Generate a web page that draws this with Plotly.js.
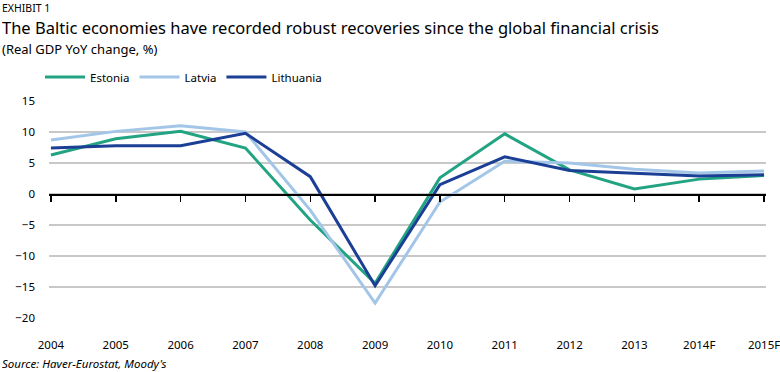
<!DOCTYPE html>
<html>
<head>
<meta charset="utf-8">
<script src="https://cdn.plot.ly/plotly-3.0.1.min.js"></script>
<style>html,body{margin:0;padding:0;background:#fff;}#chart{width:780px;height:372px;}</style>
</head>
<body>
<div id="chart"></div>
<script>
const years = ["2004","2005","2006","2007","2008","2009","2010","2011","2012","2013","2014F","2015F"];
const estonia   = [6.3, 8.9, 10.1, 7.4, -4.2, -14.4, 2.6, 9.7, 3.9, 0.8, 2.4, 3.0];
const latvia    = [8.7, 10.1, 11.0, 10.0, -2.6, -17.6, -1.3, 5.3, 5.0, 4.0, 3.4, 3.7];
const lithuania = [7.4, 7.8, 7.8, 9.8, 2.8, -14.8, 1.5, 6.0, 3.8, 3.3, 2.9, 3.1];
const seriesNames = ["Estonia", "Latvia", "Lithuania"];
const yTicks = [-20, -15, -10, -5, 0, 5, 10, 15];

const FONT = "Noto Sans, sans-serif";
const colors = ["#22a382", "#a3c6e8", "#1c3f96"];
const data = [estonia, latvia, lithuania].map((vals, i) => ({
  x: years, y: vals, type: "scatter", mode: "lines", name: seriesNames[i],
  line: {color: colors[i], width: 3}, hoverinfo: "skip"
}));
// invisible trace on the secondary axis to draw zero-line ticks
data.push({x: years, y: years.map(() => null), xaxis: "x2", yaxis: "y", type: "scatter", mode: "lines", showlegend: false, hoverinfo: "skip"});

const layout = {
  width: 780, height: 372,
  margin: {l: 49, r: 14, t: 101, b: 54},
  paper_bgcolor: "#fff", plot_bgcolor: "#fff",
  font: {family: FONT, size: 11, color: "#000"},
  showlegend: true,
  legend: {orientation: "h", x: -9/717, xref: "paper", y: 1.12, yanchor: "middle", xanchor: "left",
           font: {family: FONT, size: 11.5, color: "#000"}, itemwidth: 40, traceorder: "normal"},
  xaxis: {type: "category", categoryarray: years, range: [-0.03, 11.03],
          showgrid: false, zeroline: false, showline: false, ticks: "",
          ticklabelstandoff: 18, tickfont: {family: FONT, size: 11.5, color: "#000"}},
  xaxis2: {type: "category", categoryarray: years, matches: "x", overlaying: "x", anchor: "free",
           position: 20/35, showgrid: false, zeroline: false, showline: true, linecolor: "#000", linewidth: 1.5,
           ticks: "outside", ticklen: 6, tickwidth: 1.5, tickcolor: "#000", showticklabels: false},
  yaxis: {range: [-20, 15], tickvals: yTicks, showgrid: true, gridcolor: "#c8c8c8", gridwidth: 1.5,
          zeroline: false, showline: false, ticks: "", ticklabelstandoff: 13,
          tickfont: {family: FONT, size: 11.5, color: "#000"}},
  annotations: [
    {text: "EXHIBIT 1", xref: "paper", yref: "paper", x: -49/717, y: 0, xanchor: "left", yanchor: "middle", showarrow: false,
     font: {family: FONT, size: 10.5, color: "#000"}},
    {text: "The Baltic economies have recorded robust recoveries since the global financial crisis", xref: "paper", yref: "paper",
     x: -49/717, y: 0, xanchor: "left", yanchor: "middle", showarrow: false, font: {family: FONT, size: 16.5, color: "#000"}},
    {text: "(Real GDP YoY change, %)", xref: "paper", yref: "paper", x: -49/717, y: 0, xanchor: "left", yanchor: "middle", showarrow: false,
     font: {family: FONT, size: 13, color: "#000"}},
    {text: "<i>Source: Haver-Eurostat, Moody's</i>", xref: "paper", yref: "paper", x: -49/717, y: 0, xanchor: "left", yanchor: "middle", showarrow: false,
     font: {family: FONT, size: 11.5, color: "#000"}}
  ]
};
// position annotations by pixel y (top of page) converted to paper coords
const plotTop = 101, plotH = 372 - 101 - 54;
const pyToPaper = py => 1 - (py - plotTop) / plotH;
[8, 27.5, 49, 363].forEach((py, i) => { layout.annotations[i].y = pyToPaper(py); });
layout.legend.y = pyToPaper(77);

Plotly.newPlot("chart", data, layout, {displayModeBar: false, staticPlot: true});
</script>
</body>
</html>
